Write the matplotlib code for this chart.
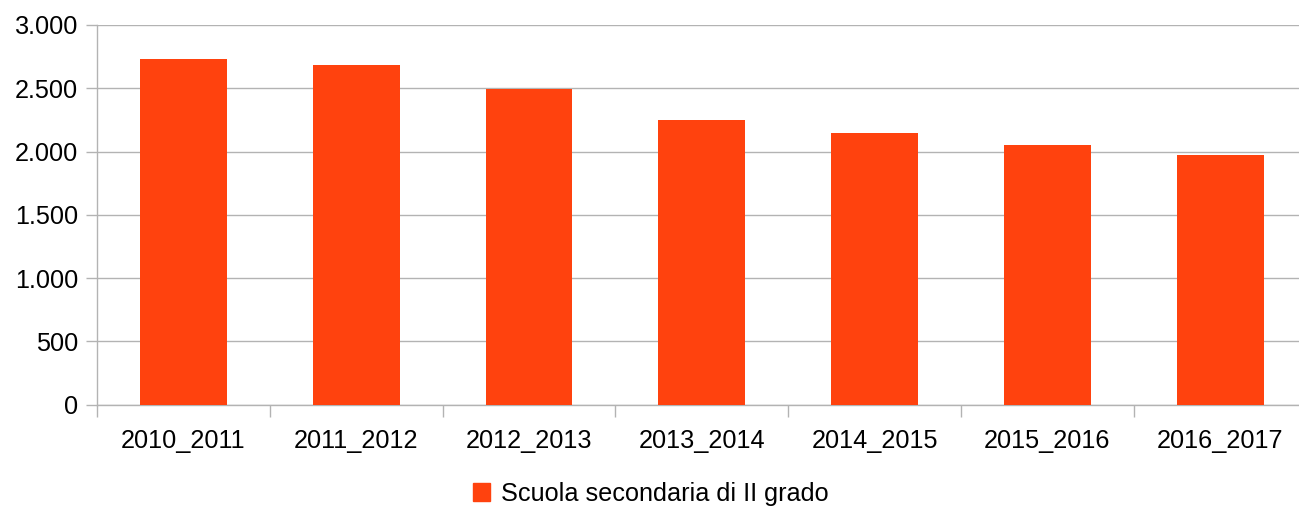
import matplotlib
matplotlib.use("Agg")
import matplotlib.pyplot as plt
from matplotlib.ticker import FuncFormatter, FixedLocator
from matplotlib.patches import Patch

categories = ["2010_2011", "2011_2012", "2012_2013", "2013_2014", "2014_2015", "2015_2016", "2016_2017"]
values = [2731, 2684, 2494, 2249, 2147, 2052, 1973]
series_name = "Scuola secondaria di II grado"
yticks = [0, 500, 1000, 1500, 2000, 2500, 3000]

plt.rcParams['font.family'] = ['Liberation Sans', 'DejaVu Sans']
W, H = 1299, 507
fig = plt.figure(figsize=(W / 100, H / 100), dpi=100)
left = 97 / W
right = 1306.6 / W
bottom = (H - 404.7) / H
top = (H - 25) / H
ax = fig.add_axes([left, bottom, right - left, top - bottom])

px = 72 / 100  # points per pixel
fs = 18.2
color = "#ff420e"
x = list(range(len(categories)))
ax.bar(x, values, width=0.503, color=color, zorder=3)
ax.set_xlim(-0.5, len(categories) - 0.5)
ax.set_ylim(0, 3000)

ax.set_yticks(yticks)
ax.yaxis.set_major_formatter(FuncFormatter(lambda v, p: f"{int(v):,}".replace(",", ".")))
ax.grid(axis="y", color="#b3b3b3", linewidth=1.0, zorder=0)
ax.set_xticks(x)
ax.set_xticklabels(categories)
ax.xaxis.set_minor_locator(FixedLocator([i - 0.5 for i in range(len(categories) + 1)]))

for s in ["top", "right"]:
    ax.spines[s].set_visible(False)
for s in ["left", "bottom"]:
    ax.spines[s].set_color("#b3b3b3")
    ax.spines[s].set_linewidth(1.0)

ax.tick_params(axis="y", length=11 * px, width=1.0, color="#b3b3b3", labelsize=fs, pad=8 * px, labelcolor="#000000")
ax.tick_params(axis="x", which="major", length=0, labelsize=fs, pad=24 * px, labelcolor="#000000")
ax.tick_params(axis="x", which="minor", length=12 * px, width=1.0, color="#b3b3b3")

handle = Patch(facecolor=color, edgecolor=color)
fig.legend([handle], [series_name], loc="center", bbox_to_anchor=(650.5 / W, (H - 494) / H),
           frameon=False, fontsize=fs, handlelength=0.7, handleheight=0.7, handletextpad=0.4)

fig.savefig("out.png", dpi=100)
